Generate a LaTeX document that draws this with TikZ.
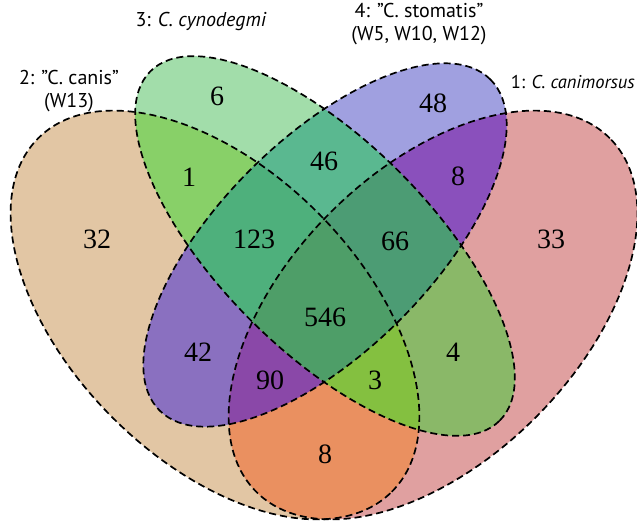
\documentclass[tikz,border=0pt]{standalone}
\usepackage{fontspec}
\setmainfont{Liberation Serif}
\newfontfamily\labelfont{PT Sans}
\definecolor{cB}{HTML}{E2C6A4}
\definecolor{cA}{HTML}{E0A0A0}
\definecolor{cC}{HTML}{A2DDAA}
\definecolor{cD}{HTML}{A0A0E0}
\definecolor{cBC}{HTML}{88D068}
\definecolor{cAD}{HTML}{8A50BC}
\definecolor{cCD}{HTML}{5AB890}
\definecolor{cBCD}{HTML}{4EB07C}
\definecolor{cACD}{HTML}{4C9C74}
\definecolor{cABCD}{HTML}{4E9E68}
\definecolor{cBD}{HTML}{8A70C0}
\definecolor{cAC}{HTML}{8AB868}
\definecolor{cABD}{HTML}{8A48A8}
\definecolor{cABC}{HTML}{84C040}
\definecolor{cAB}{HTML}{EA9060}
\tikzset{
  setA/.style={rotate around={45:(433,-315)}},
  setB/.style={rotate around={-45:(215,-315)}},
  setC/.style={rotate around={-45:(325,-246)}},
  setD/.style={rotate around={45:(325,-245)}},
  outline/.style={draw=black, line width=1.7pt, dash pattern=on 7pt off 4pt},
  num/.style={font=\fontsize{28}{30}\selectfont, inner sep=0pt},
  lbl/.style={font=\labelfont\fontsize{20}{23}\selectfont, inner sep=0pt, align=center}
}
\def\shpA{(433,-315) ellipse [x radius=250, y radius=145]}
\def\shpB{(215,-315) ellipse [x radius=250, y radius=145]}
\def\shpC{(325,-246) ellipse [x radius=247, y radius=105]}
\def\shpD{(325,-245) ellipse [x radius=234, y radius=106]}
\begin{document}
\begin{tikzpicture}[x=1pt,y=1pt]
\useasboundingbox (0,0) rectangle (637,-521);
% singles
\path[setB, fill=cB] \shpB;
\path[setA, fill=cA] \shpA;
\path[setC, fill=cC] \shpC;
\path[setD, fill=cD] \shpD;
% pairs
\begin{scope}\path[setB,clip] \shpB; \path[setC,fill=cBC] \shpC;\end{scope}
\begin{scope}\path[setC,clip] \shpC; \path[setD,fill=cCD] \shpD;\end{scope}
\begin{scope}\path[setA,clip] \shpA; \path[setD,fill=cAD] \shpD;\end{scope}
\begin{scope}\path[setB,clip] \shpB; \path[setD,fill=cBD] \shpD;\end{scope}
\begin{scope}\path[setA,clip] \shpA; \path[setC,fill=cAC] \shpC;\end{scope}
\begin{scope}\path[setA,clip] \shpA; \path[setB,fill=cAB] \shpB;\end{scope}
% triples
\begin{scope}\path[setB,clip] \shpB; \path[setC,clip] \shpC; \path[setD,fill=cBCD] \shpD;\end{scope}
\begin{scope}\path[setA,clip] \shpA; \path[setC,clip] \shpC; \path[setD,fill=cACD] \shpD;\end{scope}
\begin{scope}\path[setA,clip] \shpA; \path[setB,clip] \shpB; \path[setD,fill=cABD] \shpD;\end{scope}
\begin{scope}\path[setA,clip] \shpA; \path[setB,clip] \shpB; \path[setC,fill=cABC] \shpC;\end{scope}
% all four
\begin{scope}\path[setA,clip] \shpA; \path[setB,clip] \shpB; \path[setC,clip] \shpC; \path[setD,fill=cABCD] \shpD;\end{scope}
% outlines
\path[setB, outline] \shpB;
\path[setA, outline] \shpA;
\path[setC, outline] \shpC;
\path[setD, outline] \shpD;
% counts
\node[num] (n32) at (97,-239) {32};
\node[num] (n6) at (217,-96) {6};
\node[num] (n1) at (189,-177) {1};
\node[num] (n46) at (324,-161) {46};
\node[num] (n48) at (433,-103) {48};
\node[num] (n8a) at (458,-176) {8};
\node[num] (n123) at (254,-239) {123};
\node[num] (n66) at (395,-241) {66};
\node[num] (n33) at (551,-239) {33};
\node[num] (n546) at (325,-317) {546};
\node[num] (n42) at (198,-352) {42};
\node[num] (n4) at (453,-352) {4};
\node[num] (n90) at (270,-380) {90};
\node[num] (n3) at (375,-380) {3};
\node[num] (n8b) at (325,-454) {8};
% set labels
\node[lbl] (l3) at (201,-22) {3: \textit{C. cynodegmi}};
\node[lbl] (l4) at (419,-24) {4: ”C. stomatis”\\(W5, W10, W12)};
\node[lbl] (l2) at (69,-91) {2: ”C. canis”\\(W13)};
\node[lbl, font=\labelfont\fontsize{18.5}{22}\selectfont, anchor=east] (l1) at (635,-82) {1: \textit{C. canimorsus}};
\end{tikzpicture}
\end{document}
